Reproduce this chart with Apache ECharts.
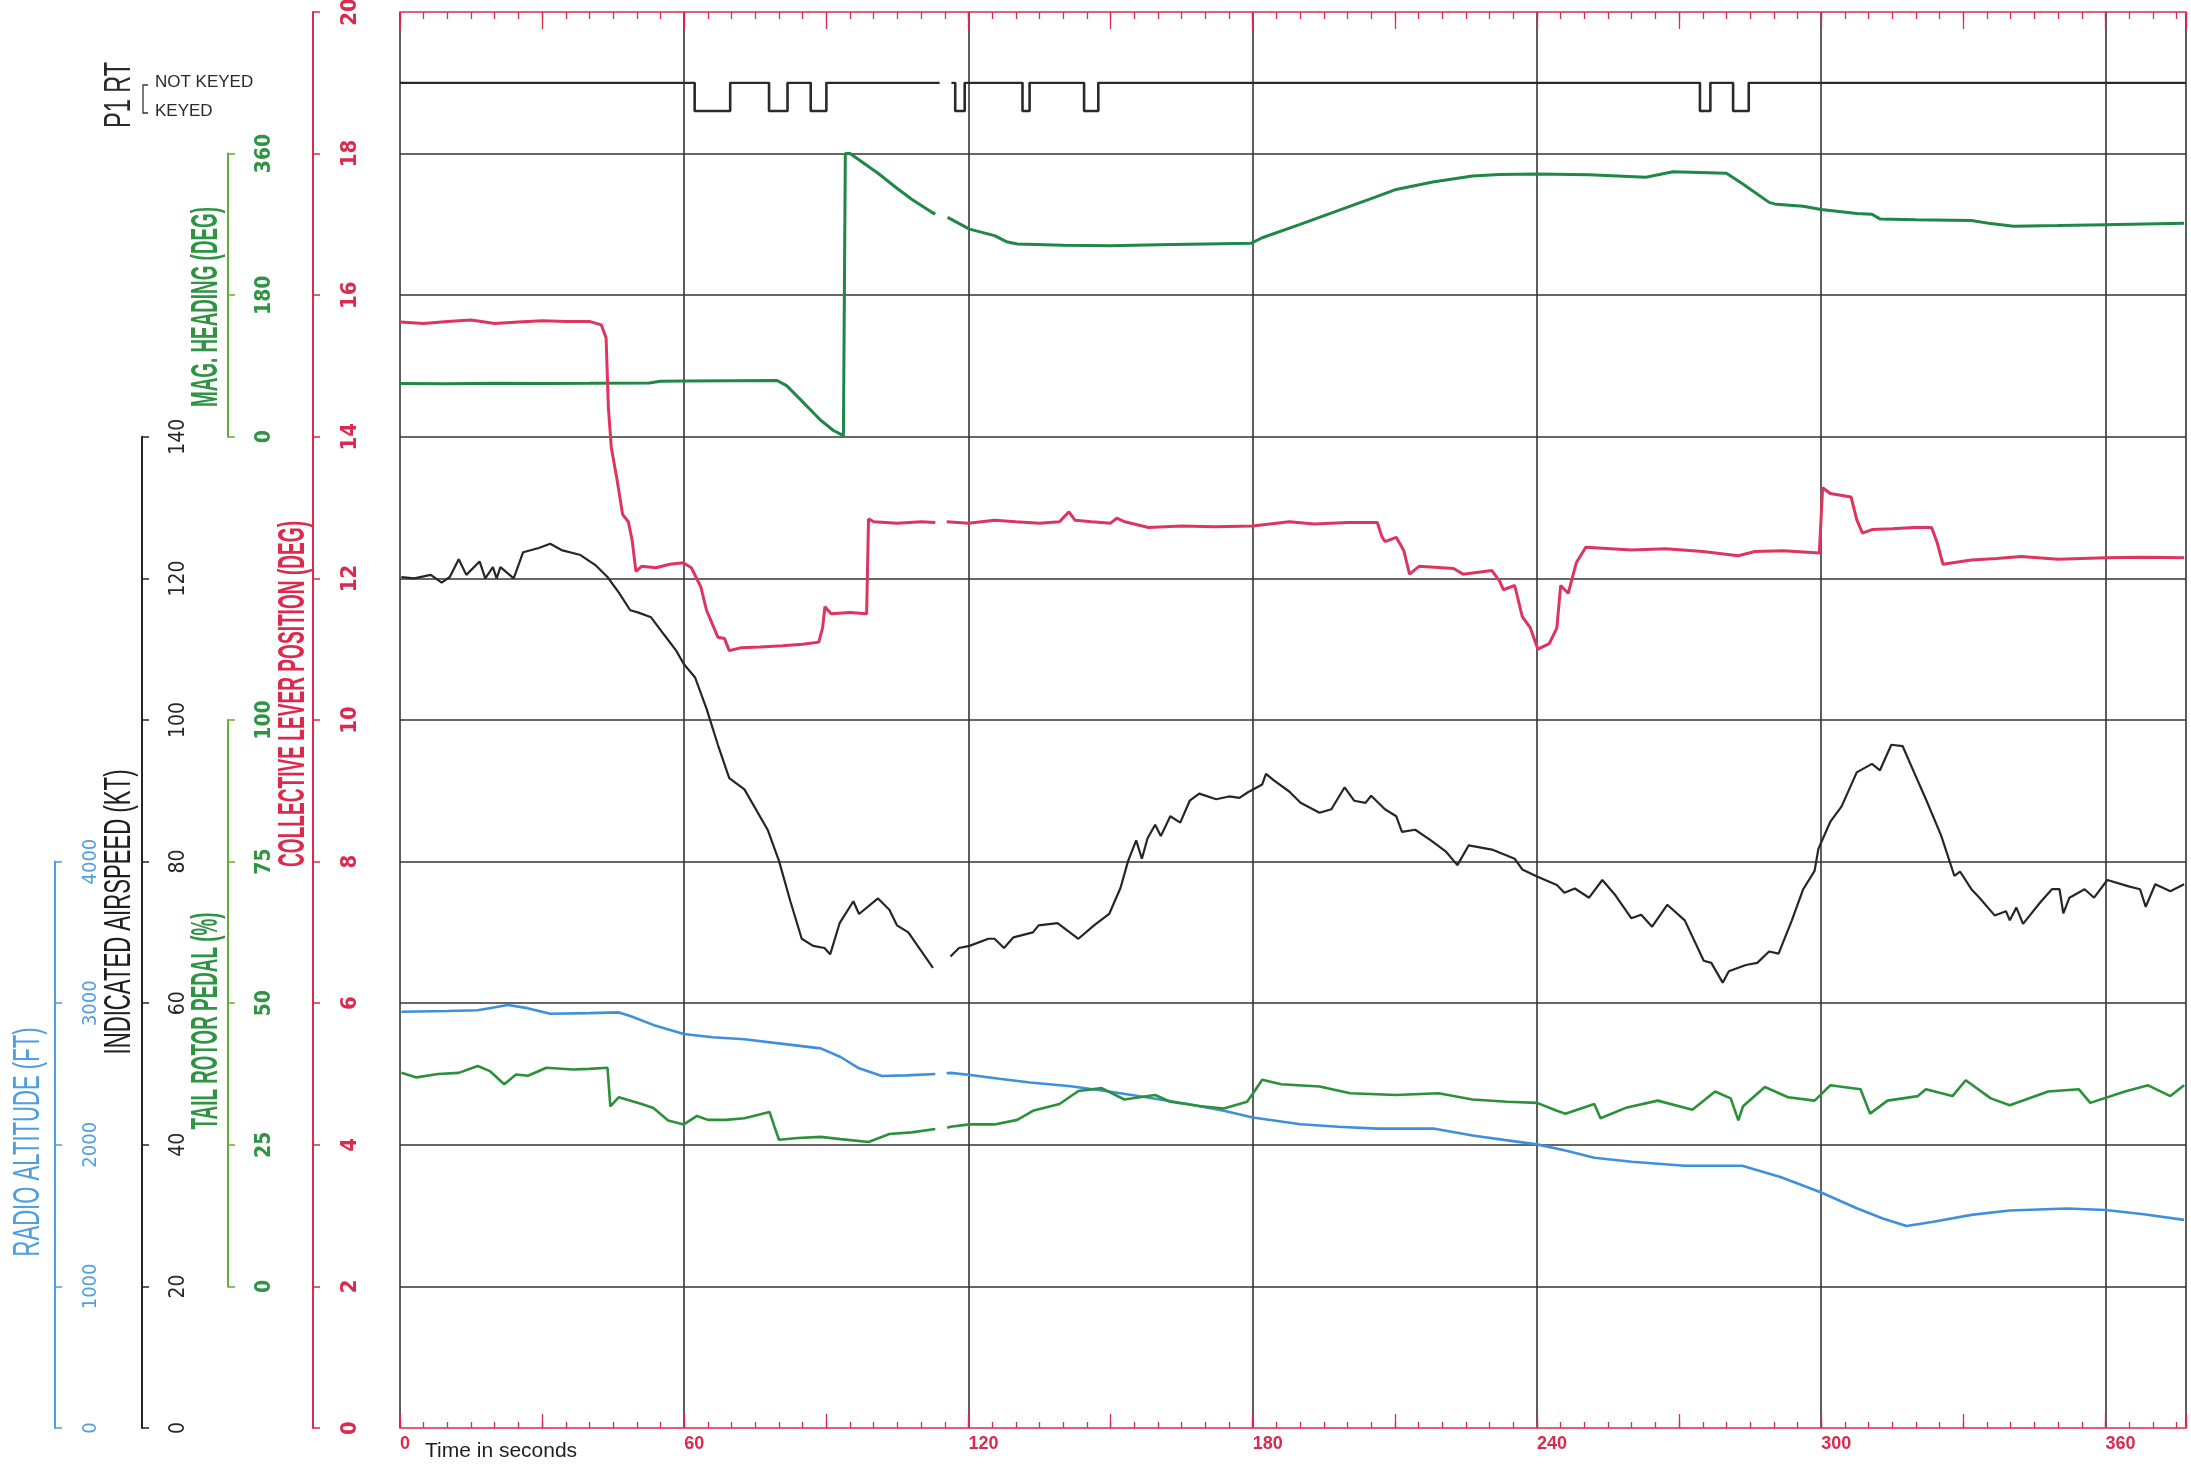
<!DOCTYPE html>
<html><head><meta charset="utf-8">
<script src="https://cdn.jsdelivr.net/npm/echarts@6/dist/echarts.min.js"></script>
<style>html,body{margin:0;padding:0;background:#fff}#c{width:2191px;height:1468px}</style>
</head><body><div id="c"></div>
<script>
// ---------------- DATA ----------------
const TIME_TICKS = [0, 60, 120, 180, 240, 300, 360];
const COLL_TICKS = [0, 2, 4, 6, 8, 10, 12, 14, 16, 18, 20];
const HDG_TICKS = [0, 180, 360];
const IAS_TICKS = [0, 20, 40, 60, 80, 100, 120, 140];
const PEDAL_TICKS = [0, 25, 50, 75, 100];
const RALT_TICKS = [0, 1000, 2000, 3000, 4000];

// Collective lever position (deg)
const COLL_T = [0,5,10,15,20,25,30,35,40,42.5,43.5,44.0,44.6,45.8,47.0,48.2,49.0,49.8,51,54,57,59.8,61.5,63.5,64.7,67.1,68.5,69.5,72,76,80.8,85,88.4,89.2,89.7,91,95,98.5,98.9,100,105,110,113.0,114.2,115.4,120,125.5,130,135,139.2,141.2,142.5,146,150,151.3,153,158,165,172,180,187.7,193,200,206.3,207.2,207.9,210.3,211.9,213.1,215.1,222.4,224.4,230.5,232.2,232.9,235.3,236.9,238.6,240.2,242.6,244.2,245.0,246.6,248.3,250.3,253,260,267.1,275,282.5,286,292,299.6,300.3,301.9,306.3,307.5,308.7,310.7,315,319.6,323.3,324.5,325.7,331.7,337,342.2,350,360,368,376.6];
const COLL_V = [15.62,15.6,15.63,15.65,15.6,15.62,15.64,15.63,15.63,15.58,15.4,14.4,13.85,13.4,12.9,12.8,12.54,12.1,12.17,12.15,12.2,12.22,12.15,11.88,11.55,11.17,11.15,10.98,11.02,11.03,11.05,11.07,11.1,11.3,11.6,11.5,11.52,11.5,12.84,12.8,12.78,12.8,12.79,null,12.8,12.78,12.82,12.8,12.78,12.8,12.94,12.82,12.8,12.78,12.85,12.8,12.72,12.74,12.73,12.74,12.8,12.77,12.79,12.79,12.6,12.52,12.58,12.39,12.06,12.17,12.14,12.06,12.11,11.95,11.84,11.9,11.46,11.3,11.0,11.08,11.3,11.9,11.79,12.22,12.44,12.43,12.4,12.42,12.38,12.32,12.38,12.39,12.36,13.28,13.2,13.15,12.83,12.64,12.69,12.7,12.72,12.72,12.5,12.2,12.26,12.28,12.31,12.27,12.29,12.3,12.29];

// Magnetic heading (deg)
const HDG_T = [0,10,20,30,40,52.6,55,60,70,79.6,81.6,84.8,88.8,91.5,93.6,94.0,95.0,100.9,104.9,108,112.1,113,114.2,115.6,116.2,120.2,125.5,128,130.3,140,150,160,170,179.6,182,190,198,206,210,218,226.4,232,240,251,263,268.7,280,283.3,289,290.5,296.2,300,307.5,310.7,312.4,320,331.7,335.8,340.6,350,360,376.6];
const HDG_V = [67.8,67.5,68,67.8,68,68.5,70.5,71,71.2,71.5,65,45.7,21,8,1.5,360,360,335,316,302,286,283,null,279,277,264,255.7,248,245,243.5,243,244,245,246,253,270,287.5,305,314,324,331.6,333.5,334,333,330,337,335,322,298,295.5,293,289,284,283,277,276,275,271,267.7,268.5,269.6,271.6];

// Indicated airspeed (kt)
const IAS_T = [0.3,3,6.5,8.8,10.5,12.4,14,16.8,18,19.6,20.4,21.2,24,26,29.3,31.7,34.1,38.1,41.4,43.8,46.2,48.6,50.2,53,55.8,58.3,59.9,62.3,64.7,67.1,69.5,72.7,77.6,80,82.4,84.8,87.2,89.6,90.8,92.8,95.7,96.9,100.9,103.3,104.9,107.3,112.5,114.3,116.2,118,120.2,124.2,125.5,127.5,129.5,133.6,134.8,138.8,143.2,146.5,149.7,152.1,153.7,155.4,156.6,157.8,159.4,160.6,162.6,164.7,166.7,168.7,172.3,175,177.2,179,182,182.8,184.4,187.7,190.1,194.1,196.6,199.4,201.4,203.8,205,207.9,210.3,211.5,214.3,217.6,220.8,223.2,225.6,230.5,235.3,236.9,240,244.2,245.8,248,251,253.8,256.6,259.9,262,264.3,267.5,271.2,275.2,276.8,279.2,280.5,284.1,286.5,289,291,293.8,296.2,298.6,299.4,301.9,304.3,307.5,310.7,312.4,314.8,317.2,319.6,322.1,325.3,328.1,329.3,331.7,333.4,336.6,339,339.8,341.2,342.6,346.3,348.7,350.3,351.1,352.4,355.6,357.6,360.4,364.9,367.3,368.5,370.5,373.7,376.6];
const IAS_V = [120.2,120,120.5,119.4,120.2,122.7,120.5,122.4,120,121.6,120,121.6,120,123.7,124.3,124.9,124,123.3,121.8,120.2,118,115.5,115.2,114.5,112,109.8,107.9,106,101.6,96.5,91.8,90.2,84.5,80.1,74.4,69.1,68.1,67.8,66.9,71.3,74.4,72.6,74.8,73.2,71,70,65,null,66.6,67.8,68.1,69.1,69.1,67.8,69.3,70,71,71.3,69.1,71,72.6,76.3,80.1,83,80.4,83.3,85.2,83.6,86.4,85.5,88.6,89.6,88.8,89.2,89,89.8,90.9,92.4,91.5,89.9,88.3,86.9,87.4,90.5,88.6,88.3,89.3,87.4,86.4,84.2,84.5,83,81.4,79.5,82.3,81.7,80.4,78.9,77.9,76.7,75.6,76.2,74.9,77.4,75.2,72,72.5,70.8,73.9,71.7,66,65.7,62.9,64.5,65.4,65.7,67.3,67,71.7,76.1,78.7,81.8,85.6,87.8,92.6,93.8,92.9,96.5,96.3,92.6,88.8,83.7,78,78.6,76.1,74.9,72.4,73,71.7,73.5,71.2,74.3,76.1,76.1,72.7,74.9,76.1,74.9,77.4,76.5,76.1,73.6,76.8,75.8,76.8];

// Tail rotor pedal (%)
const PEDAL_T = [0.3,3.5,8,12.4,16.4,19,22,24.5,27,30.9,36.5,40,43.8,44.4,46.2,51,53.5,56.6,59.9,62.7,65,68.7,72.7,78,79,80,84,88.8,93,98.9,103.3,108,113,114.2,115.5,116.2,120.2,125.5,130.3,133.6,139.2,143.2,148.1,152.9,159.4,162.6,169.1,173.9,178.8,180.4,182,186,194.1,200.6,210.3,219.2,226.4,233.7,240,244.2,246,252.1,253.4,259,265.5,272.8,277.6,280.9,282.5,283.5,288.1,293,298.6,301.9,308.3,310.3,314,320.4,322.1,327.7,330.5,335.8,339.8,347.9,354.4,356.8,364.1,369,373.7,376.6];
const PEDAL_V = [37.7,36.9,37.5,37.7,38.9,38,35.7,37.4,37.2,38.6,38.3,38.4,38.6,31.8,33.4,32.2,31.5,29.3,28.6,30.1,29.4,29.4,29.7,30.8,28.3,25.9,26.2,26.4,26,25.5,26.9,27.2,27.8,null,28,28.2,28.6,28.6,29.4,31,32.2,34.5,35,33,33.8,32.6,31.8,31.4,32.6,34.5,36.5,35.7,35.3,34.1,33.8,34.1,33,32.6,32.4,31,30.5,32.2,29.7,31.6,32.8,31.2,34.4,33.2,29.3,31.8,35.2,33.4,32.8,35.5,34.8,30.5,32.8,33.6,34.8,33.6,36.4,33.2,32,34.4,34.8,32.4,34.4,35.5,33.6,35.5];

// Radio altitude (ft)
const RALT_T = [0.3,10,16.4,22.8,26.9,31.7,40,46.2,48.6,54,59.9,66,72.7,80.8,88.8,93,96.9,101.7,107,113,114.2,115.4,116.2,120,126.5,133,141.6,150,157.8,166,173.9,180,190.1,198,206.3,218.4,226.4,233,240,246,252.1,260,271.2,283.3,291.4,300,307.5,313,318,323.7,331.7,339.8,351.9,360,368.1,376.6];
const RALT_V = [2940,2945,2950,2987,2965,2925,2930,2935,2910,2840,2782,2760,2745,2713,2681,2620,2540,2486,2490,2500,null,2505,2508,2495,2467,2440,2413,2375,2334,2290,2240,2193,2145,2128,2114,2114,2066,2035,2003,1960,1909,1880,1852,1852,1773,1663,1552,1480,1426,1457,1505,1536,1550,1540,1510,1470];

// P1 RT transmit key: 1 = NOT KEYED, 0 = KEYED (value holds until the next time)
const P1RT_T = [0,62.2,69.7,77.9,81.8,86.7,90.0,113.9,114.0,116.4,117.2,119.2,131.4,132.9,144.4,147.4,274.4,276.6,281.4,284.7,377];
const P1RT_V = [1,0,1,0,1,0,1,1,null,1,0,1,0,1,0,1,0,1,0,1,1];

// ---------------- STYLE ----------------
const RED = '#dc2a4e', RED_LINE = '#de3560';
const GREEN = '#2e9444', GREEN_AX = '#6aa83a', HDG_LINE = '#1f8748', PED_LINE = '#2b9139';
const BLUE = '#4e9fe0', BLUE_LINE = '#3f90da';
const BLACK = '#262626', GRID = '#353535';
const NARROW = "'Liberation Sans Narrow','DejaVu Sans Condensed','Arial Narrow','Liberation Sans',sans-serif";
const SANS = "'Liberation Sans',Arial,sans-serif";

const W = 2191, H = 1468;
const PL = 400, PR = 5, PT = 12, PB = 40;
const XMAX = 377;
const UNIT = (H - PT - PB) / 20;           // pixels per collective degree
const yOf = c => H - PB - c * UNIT;        // collective -> pixel (for grid placement only)

const zip = (t, v) => t.map((x, i) => [x, v[i]]);

function grid(cTop, cBottom) {
  return { left: PL, right: PR, top: yOf(cTop), bottom: H - yOf(cBottom), outerBoundsMode: 'none', containLabel: false };
}
function hiddenX(gi) {
  return { gridIndex: gi, type: 'value', min: 0, max: XMAX, show: false };
}
function yAx(gi, ticks, axisX, color, lineColor, fs, fw) {
  return {
    gridIndex: gi, type: 'value', min: ticks[0], max: ticks[ticks.length - 1],
    interval: ticks[1] - ticks[0], position: 'left', offset: PL - axisX,
    axisLine: { show: true, onZero: false, lineStyle: { color: lineColor, width: 2 } },
    axisTick: { show: true, inside: true, length: 7, lineStyle: { color: lineColor, width: 1.5 } },
    axisLabel: { show: true, inside: true, rotate: 90, margin: 26, color: color, fontSize: fs, fontWeight: fw, fontFamily: NARROW,
      formatter: v => String(v) },
    splitLine: { show: false }
  };
}

const ctx = document.createElement('canvas').getContext('2d');
function vtitle(text, cx, cy, len, size, weight, color, family) {
  family = family || SANS;
  ctx.font = weight + ' ' + size + 'px ' + family;
  const w = ctx.measureText(text).width;
  return {
    type: 'text', x: cx, y: cy, rotation: Math.PI / 2, scaleX: len / w, scaleY: 1,
    style: { text: text, fontSize: size, fontWeight: weight, fontFamily: family, fill: color, align: 'center', verticalAlign: 'middle' }
  };
}

const chart = echarts.init(document.getElementById('c'), null, { renderer: 'canvas', width: W, height: H });

const option = {
  animation: false,
  backgroundColor: '#ffffff',
  grid: [
    grid(20, 0),      // 0 collective (full plot)
    grid(18, 14),     // 1 magnetic heading
    grid(14, 0),      // 2 indicated airspeed
    grid(10, 2),      // 3 tail rotor pedal
    grid(8, 0),       // 4 radio altitude
    grid(19.0, 18.6)  // 5 P1 RT
  ],
  xAxis: [
    { gridIndex: 0, type: 'value', min: 0, max: XMAX, interval: 60, position: 'bottom',
      axisLine: { show: true, onZero: false, lineStyle: { color: RED, width: 1.6 } },
      axisTick: { show: false },
      axisLabel: { show: true, margin: 7, align: 'left', color: RED, fontSize: 18, fontWeight: 'bold', fontFamily: SANS,
        formatter: v => TIME_TICKS.indexOf(v) >= 0 ? String(v) : '' },
      splitLine: { show: true, lineStyle: { color: GRID, width: 1.6 } } },
    { gridIndex: 0, type: 'value', min: 0, max: XMAX, interval: 5, position: 'bottom',
      axisLine: { show: false, onZero: false }, axisLabel: { show: false }, splitLine: { show: false },
      axisTick: { show: true, inside: true, length: 6, lineStyle: { color: RED, width: 1.3 } } },
    { gridIndex: 0, type: 'value', min: 0, max: XMAX, interval: 30, position: 'bottom',
      axisLine: { show: false, onZero: false }, axisLabel: { show: false }, splitLine: { show: false },
      axisTick: { show: true, inside: true, length: 14, lineStyle: { color: RED, width: 1.3 } } },
    { gridIndex: 0, type: 'value', min: 0, max: XMAX, interval: 5, position: 'top',
      axisLine: { show: true, onZero: false, lineStyle: { color: RED, width: 1.6 } }, axisLabel: { show: false }, splitLine: { show: false },
      axisTick: { show: true, inside: true, length: 7, lineStyle: { color: RED, width: 1.3 } } },
    { gridIndex: 0, type: 'value', min: 0, max: XMAX, interval: 30, position: 'top',
      axisLine: { show: false, onZero: false }, axisLabel: { show: false }, splitLine: { show: false },
      axisTick: { show: true, inside: true, length: 17, lineStyle: { color: RED, width: 1.3 } } },
    hiddenX(1), hiddenX(2), hiddenX(3), hiddenX(4), hiddenX(5)
  ],
  yAxis: [
    Object.assign(yAx(0, COLL_TICKS, 313, RED, RED, 22, 'bold'),
      { splitLine: { show: true, showMinLine: false, showMaxLine: false, lineStyle: { color: GRID, width: 1.6 } } }),
    yAx(1, HDG_TICKS, 228, GREEN, GREEN_AX, 21, 'bold'),
    yAx(2, IAS_TICKS, 142, BLACK, BLACK, 21, 'normal'),
    yAx(3, PEDAL_TICKS, 228, GREEN, GREEN_AX, 21, 'bold'),
    yAx(4, RALT_TICKS, 55, BLUE, BLUE, 20, 'normal'),
    { gridIndex: 5, type: 'value', min: 0, max: 1, show: false }
  ],
  series: [
    { name: 'Radio altitude', type: 'line', xAxisIndex: 8, yAxisIndex: 4, data: zip(RALT_T, RALT_V),
      showSymbol: false, symbol: 'none', lineStyle: { color: BLUE_LINE, width: 2.6 } },
    { name: 'Tail rotor pedal', type: 'line', xAxisIndex: 7, yAxisIndex: 3, data: zip(PEDAL_T, PEDAL_V),
      showSymbol: false, symbol: 'none', lineStyle: { color: PED_LINE, width: 2.6 } },
    { name: 'Indicated airspeed', type: 'line', xAxisIndex: 6, yAxisIndex: 2, data: zip(IAS_T, IAS_V),
      showSymbol: false, symbol: 'none', lineStyle: { color: BLACK, width: 2.2 } },
    { name: 'Magnetic heading', type: 'line', xAxisIndex: 5, yAxisIndex: 1, data: zip(HDG_T, HDG_V),
      showSymbol: false, symbol: 'none', lineStyle: { color: HDG_LINE, width: 3 } },
    { name: 'Collective', type: 'line', xAxisIndex: 0, yAxisIndex: 0, data: zip(COLL_T, COLL_V),
      showSymbol: false, symbol: 'none', lineStyle: { color: RED_LINE, width: 3 } },
    { name: 'P1 RT', type: 'line', step: 'end', xAxisIndex: 9, yAxisIndex: 5, data: zip(P1RT_T, P1RT_V),
      showSymbol: false, symbol: 'none', lineStyle: { color: '#2a2a2a', width: 2.6 } }
  ],
  graphic: [
    vtitle('P1 RT', 120, 95, 66, 36, 'normal', '#2a2a2a'),
    { type: 'polyline', shape: { points: [[148, 85], [143, 85], [143, 113], [148, 113]] }, style: { stroke: '#333', lineWidth: 1.3, fill: null } },
    { type: 'text', x: 155, y: 82, style: { text: 'NOT KEYED', fontSize: 17, fontFamily: SANS, fill: '#2a2a2a', align: 'left', verticalAlign: 'middle' } },
    { type: 'text', x: 155, y: 111, style: { text: 'KEYED', fontSize: 17, fontFamily: SANS, fill: '#2a2a2a', align: 'left', verticalAlign: 'middle' } },
    vtitle('MAG. HEADING (DEG)', 207, 307, 200, 37, 'bold', GREEN),
    vtitle('INDICATED AIRSPEED (KT)', 120, 912, 285, 37, 'normal', '#1e1e1e'),
    vtitle('COLLECTIVE LEVER POSITION (DEG)', 294, 694, 346, 37, 'bold', RED),
    vtitle('TAIL ROTOR PEDAL (%)', 207, 1021, 217, 37, 'bold', GREEN),
    vtitle('RADIO ALTITUDE (FT)', 29, 1142, 229, 37, 'normal', BLUE),
    { type: 'text', x: 425, y: 1451, style: { text: 'Time in seconds', fontSize: 21, fontFamily: SANS, fill: '#1e1e1e', align: 'left', verticalAlign: 'middle' } }
  ]
};
chart.setOption(option);
</script></body></html>
